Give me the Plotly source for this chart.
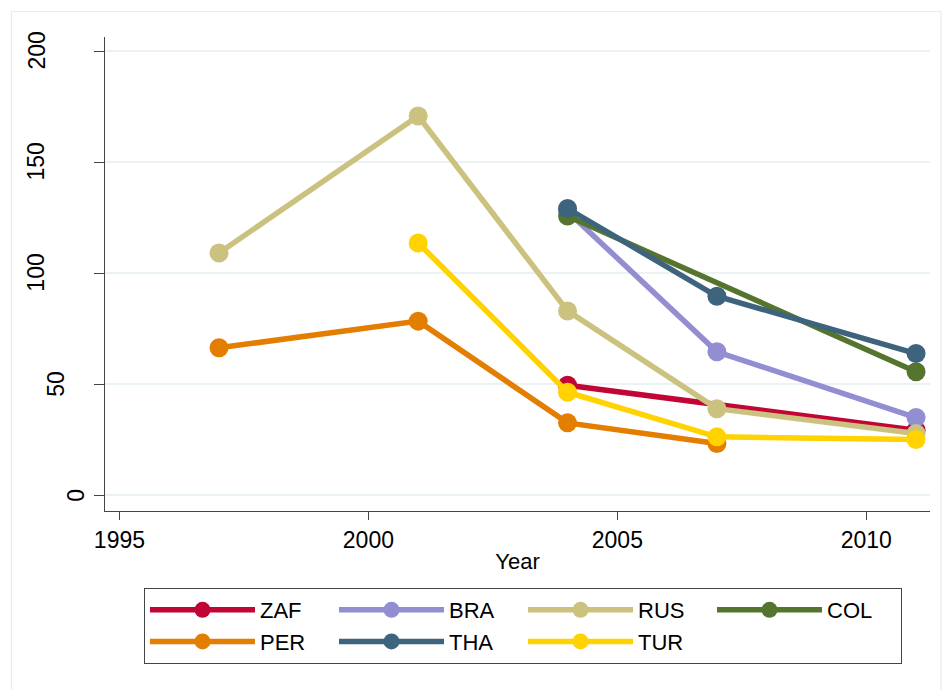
import plotly.graph_objects as go

# Country series: survey years and values
countries = ["ZAF", "BRA", "RUS", "COL", "PER", "THA", "TUR"]
years = {
    "ZAF": [2004, 2011],
    "BRA": [2004, 2007, 2011],
    "RUS": [1997, 2001, 2004, 2007, 2011],
    "COL": [2004, 2011],
    "PER": [1997, 2001, 2004, 2007],
    "THA": [2004, 2007, 2011],
    "TUR": [2001, 2004, 2007, 2011],
}
values = {
    "ZAF": [49.5, 29.3],
    "BRA": [127.8, 64.6, 35.0],
    "RUS": [109.1, 170.7, 83.0, 39.0, 27.8],
    "COL": [125.7, 55.6],
    "PER": [66.4, 78.4, 32.6, 23.3],
    "THA": [129.1, 89.6, 63.8],
    "TUR": [113.6, 46.4, 26.3, 25.1],
}
colors = {
    "ZAF": "#c10534",
    "BRA": "#938dd2",
    "RUS": "#cac27e",
    "COL": "#55752f",
    "PER": "#e37e00",
    "THA": "#3e647d",
    "TUR": "#ffd200",
}

x_ticks = [1995, 2000, 2005, 2010]
y_ticks = [0, 50, 100, 150, 200]
x_title = "Year"

FONT = "Liberation Sans, Arial, sans-serif"
AXIS = "#444444"
GRID = "#eaf2f3"

fig = go.Figure()
for c in countries:
    fig.add_trace(go.Scatter(
        x=years[c], y=values[c], name=c,
        mode="lines+markers",
        line=dict(color=colors[c], width=5.5),
        marker=dict(color=colors[c], size=19, line=dict(width=0)),
    ))

# Vertical y tick labels, each anchored at its own offset from the axis
for v in y_ticks:
    label = str(v)
    center_px = 96.5 - 20 * len(label)
    fig.add_annotation(
        x=0, xref="paper", y=v, yref="y",
        xshift=center_px - 105, xanchor="center", yanchor="middle",
        text=label, textangle=-90, showarrow=False,
        font=dict(family=FONT, size=23, color="black"),
    )

# Light outer frame of the graph region
fig.add_shape(type="rect", xref="paper", yref="paper",
              x0=(11.5 - 105) / 825, x1=(941 - 105) / 825,
              y0=(510.7 - 700) / 473.7, y1=(510.7 - 11.5) / 473.7,
              line=dict(color="#e4eef0", width=1.2), layer="below")

fig.update_layout(
    width=942, height=690,
    margin=dict(l=105, r=12, t=37, b=179.3, autoexpand=False),
    paper_bgcolor="white", plot_bgcolor="white",
    font=dict(family=FONT, size=23, color="black"),
    showlegend=True,
    legend=dict(
        orientation="h", x=(144 - 105) / 825, xanchor="left",
        y=-0.1625, yanchor="top",
        entrywidth=69, entrywidthmode="pixels", itemwidth=105,
        bordercolor=AXIS, borderwidth=1, bgcolor="white",
        font=dict(family=FONT, size=22, color="black"),
        traceorder="normal", itemclick=False,
    ),
    xaxis=dict(
        range=[1994.71, 2011.28], tickvals=x_ticks,
        ticktext=[str(t) for t in x_ticks],
        showgrid=False, zeroline=False, automargin=False,
        showline=True, linecolor=AXIS, linewidth=1,
        ticks="outside", ticklen=8, tickcolor=AXIS, tickwidth=1,
        tickfont=dict(family=FONT, size=23, color="black"),
        title=dict(text=x_title, standoff=2,
                   font=dict(family=FONT, size=22, color="black")),
    ),
    yaxis=dict(
        range=[-7.07, 206.3], tickvals=y_ticks, showticklabels=False,
        showgrid=True, gridcolor=GRID, gridwidth=2, zeroline=False,
        automargin=False,
        showline=True, linecolor=AXIS, linewidth=1,
        ticks="outside", ticklen=10, tickcolor=AXIS, tickwidth=1,
    ),
)

fig.write_html("out.html")
